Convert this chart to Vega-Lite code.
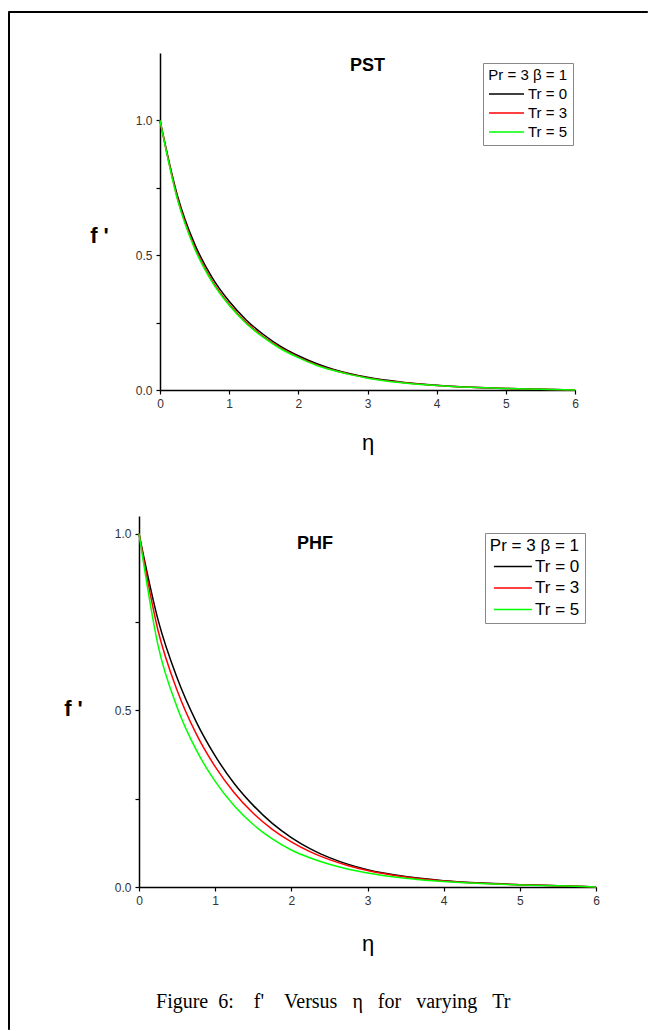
{
  "$schema": "https://vega.github.io/schema/vega-lite/v6.json",
  "padding": {"left": 7, "top": 10, "right": 0, "bottom": 0},
  "background": "white",
  "config": {"view": {"stroke": null}, "font": "Liberation Sans"},
  "datasets": {
    "pst": [
      {"eta": 0, "f": 1.0, "series": "Tr = 0"},
      {"eta": 0.25, "f": 0.723, "series": "Tr = 0"},
      {"eta": 0.5, "f": 0.542, "series": "Tr = 0"},
      {"eta": 0.75, "f": 0.419, "series": "Tr = 0"},
      {"eta": 1, "f": 0.329, "series": "Tr = 0"},
      {"eta": 1.25, "f": 0.259, "series": "Tr = 0"},
      {"eta": 1.5, "f": 0.205, "series": "Tr = 0"},
      {"eta": 1.75, "f": 0.161, "series": "Tr = 0"},
      {"eta": 2, "f": 0.127, "series": "Tr = 0"},
      {"eta": 2.25, "f": 0.099, "series": "Tr = 0"},
      {"eta": 2.5, "f": 0.077, "series": "Tr = 0"},
      {"eta": 2.75, "f": 0.06, "series": "Tr = 0"},
      {"eta": 3, "f": 0.047, "series": "Tr = 0"},
      {"eta": 3.5, "f": 0.029, "series": "Tr = 0"},
      {"eta": 4, "f": 0.0175, "series": "Tr = 0"},
      {"eta": 4.5, "f": 0.0105, "series": "Tr = 0"},
      {"eta": 5, "f": 0.006, "series": "Tr = 0"},
      {"eta": 5.5, "f": 0.003, "series": "Tr = 0"},
      {"eta": 6, "f": 0.0, "series": "Tr = 0"},
      {"eta": 0, "f": 1.0, "series": "Tr = 3"},
      {"eta": 0.25, "f": 0.713, "series": "Tr = 3"},
      {"eta": 0.5, "f": 0.53, "series": "Tr = 3"},
      {"eta": 0.75, "f": 0.407, "series": "Tr = 3"},
      {"eta": 1, "f": 0.318, "series": "Tr = 3"},
      {"eta": 1.25, "f": 0.25, "series": "Tr = 3"},
      {"eta": 1.5, "f": 0.197, "series": "Tr = 3"},
      {"eta": 1.75, "f": 0.155, "series": "Tr = 3"},
      {"eta": 2, "f": 0.122, "series": "Tr = 3"},
      {"eta": 2.25, "f": 0.095, "series": "Tr = 3"},
      {"eta": 2.5, "f": 0.074, "series": "Tr = 3"},
      {"eta": 2.75, "f": 0.058, "series": "Tr = 3"},
      {"eta": 3, "f": 0.045, "series": "Tr = 3"},
      {"eta": 3.5, "f": 0.028, "series": "Tr = 3"},
      {"eta": 4, "f": 0.017, "series": "Tr = 3"},
      {"eta": 4.5, "f": 0.01, "series": "Tr = 3"},
      {"eta": 5, "f": 0.006, "series": "Tr = 3"},
      {"eta": 5.5, "f": 0.003, "series": "Tr = 3"},
      {"eta": 6, "f": 0.0, "series": "Tr = 3"},
      {"eta": 0, "f": 1.0, "series": "Tr = 5"},
      {"eta": 0.25, "f": 0.709, "series": "Tr = 5"},
      {"eta": 0.5, "f": 0.525, "series": "Tr = 5"},
      {"eta": 0.75, "f": 0.402, "series": "Tr = 5"},
      {"eta": 1, "f": 0.314, "series": "Tr = 5"},
      {"eta": 1.25, "f": 0.246, "series": "Tr = 5"},
      {"eta": 1.5, "f": 0.194, "series": "Tr = 5"},
      {"eta": 1.75, "f": 0.152, "series": "Tr = 5"},
      {"eta": 2, "f": 0.12, "series": "Tr = 5"},
      {"eta": 2.25, "f": 0.093, "series": "Tr = 5"},
      {"eta": 2.5, "f": 0.073, "series": "Tr = 5"},
      {"eta": 2.75, "f": 0.057, "series": "Tr = 5"},
      {"eta": 3, "f": 0.044, "series": "Tr = 5"},
      {"eta": 3.5, "f": 0.027, "series": "Tr = 5"},
      {"eta": 4, "f": 0.0165, "series": "Tr = 5"},
      {"eta": 4.5, "f": 0.0098, "series": "Tr = 5"},
      {"eta": 5, "f": 0.0058, "series": "Tr = 5"},
      {"eta": 5.5, "f": 0.003, "series": "Tr = 5"},
      {"eta": 6, "f": 0.0, "series": "Tr = 5"}
    ],
    "phf": [
      {"eta": 0, "f": 1.0, "series": "Tr = 0"},
      {"eta": 0.25, "f": 0.756, "series": "Tr = 0"},
      {"eta": 0.5, "f": 0.592, "series": "Tr = 0"},
      {"eta": 0.75, "f": 0.468, "series": "Tr = 0"},
      {"eta": 1, "f": 0.371, "series": "Tr = 0"},
      {"eta": 1.25, "f": 0.293, "series": "Tr = 0"},
      {"eta": 1.5, "f": 0.231, "series": "Tr = 0"},
      {"eta": 1.75, "f": 0.18, "series": "Tr = 0"},
      {"eta": 2, "f": 0.14, "series": "Tr = 0"},
      {"eta": 2.25, "f": 0.108, "series": "Tr = 0"},
      {"eta": 2.5, "f": 0.083, "series": "Tr = 0"},
      {"eta": 2.75, "f": 0.064, "series": "Tr = 0"},
      {"eta": 3, "f": 0.049, "series": "Tr = 0"},
      {"eta": 3.5, "f": 0.0297, "series": "Tr = 0"},
      {"eta": 4, "f": 0.018, "series": "Tr = 0"},
      {"eta": 4.5, "f": 0.011, "series": "Tr = 0"},
      {"eta": 5, "f": 0.0066, "series": "Tr = 0"},
      {"eta": 5.5, "f": 0.0035, "series": "Tr = 0"},
      {"eta": 6, "f": 0.0, "series": "Tr = 0"},
      {"eta": 0, "f": 1.0, "series": "Tr = 3"},
      {"eta": 0.25, "f": 0.726, "series": "Tr = 3"},
      {"eta": 0.5, "f": 0.557, "series": "Tr = 3"},
      {"eta": 0.75, "f": 0.434, "series": "Tr = 3"},
      {"eta": 1, "f": 0.3405, "series": "Tr = 3"},
      {"eta": 1.25, "f": 0.2665, "series": "Tr = 3"},
      {"eta": 1.5, "f": 0.2086, "series": "Tr = 3"},
      {"eta": 1.75, "f": 0.1633, "series": "Tr = 3"},
      {"eta": 2, "f": 0.1278, "series": "Tr = 3"},
      {"eta": 2.25, "f": 0.0995, "series": "Tr = 3"},
      {"eta": 2.5, "f": 0.0775, "series": "Tr = 3"},
      {"eta": 2.75, "f": 0.0604, "series": "Tr = 3"},
      {"eta": 3, "f": 0.047, "series": "Tr = 3"},
      {"eta": 3.5, "f": 0.0285, "series": "Tr = 3"},
      {"eta": 4, "f": 0.0173, "series": "Tr = 3"},
      {"eta": 4.5, "f": 0.0105, "series": "Tr = 3"},
      {"eta": 5, "f": 0.0064, "series": "Tr = 3"},
      {"eta": 5.5, "f": 0.0034, "series": "Tr = 3"},
      {"eta": 6, "f": 0.0, "series": "Tr = 3"},
      {"eta": 0, "f": 1.0, "series": "Tr = 5"},
      {"eta": 0.25, "f": 0.684, "series": "Tr = 5"},
      {"eta": 0.5, "f": 0.509, "series": "Tr = 5"},
      {"eta": 0.75, "f": 0.3886, "series": "Tr = 5"},
      {"eta": 1, "f": 0.2989, "series": "Tr = 5"},
      {"eta": 1.25, "f": 0.2299, "series": "Tr = 5"},
      {"eta": 1.5, "f": 0.1768, "series": "Tr = 5"},
      {"eta": 1.75, "f": 0.136, "series": "Tr = 5"},
      {"eta": 2, "f": 0.1046, "series": "Tr = 5"},
      {"eta": 2.25, "f": 0.0821, "series": "Tr = 5"},
      {"eta": 2.5, "f": 0.0644, "series": "Tr = 5"},
      {"eta": 2.75, "f": 0.0505, "series": "Tr = 5"},
      {"eta": 3, "f": 0.0397, "series": "Tr = 5"},
      {"eta": 3.5, "f": 0.0247, "series": "Tr = 5"},
      {"eta": 4, "f": 0.0154, "series": "Tr = 5"},
      {"eta": 4.5, "f": 0.0096, "series": "Tr = 5"},
      {"eta": 5, "f": 0.006, "series": "Tr = 5"},
      {"eta": 5.5, "f": 0.0032, "series": "Tr = 5"},
      {"eta": 6, "f": 0.0, "series": "Tr = 5"}
    ]
  },
  "bounds": "flush",
  "spacing": 0,
  "vconcat": [
    {
      "width": 639, "height": 1,
      "view": {"stroke": "black", "strokeWidth": 1, "fill": "black"},
      "data": {"values": []},
      "mark": {"type": "point", "opacity": 0}
    },
    {
      "bounds": "flush",
      "spacing": 130,
      "hconcat": [
        {
          "width": 1, "height": 1017,
          "view": {"stroke": "black", "strokeWidth": 1, "fill": "black"},
          "data": {"values": []},
          "mark": {"type": "point", "opacity": 0}
        },
        {
          "bounds": "flush",
          "spacing": 0,
          "vconcat": [
            {
              "width": 1, "height": 41,
              "data": {"values": []},
              "mark": {"type": "point", "opacity": 0}
            },
            {
              "bounds": "flush",
              "spacing": 126,
              "center": true,
              "resolve": {"scale": {"color": "independent"}, "legend": {"color": "independent"}},
              "vconcat": [
                {
                  "width": 415, "height": 337,
                  "data": {"name": "pst"},
                  "layer": [
                    {
                      "mark": {"type": "line", "interpolate": "monotone", "strokeWidth": 1.5},
                      "encoding": {
                        "x": {
                          "field": "eta", "type": "quantitative",
                          "scale": {"domain": [0, 6], "nice": false, "zero": false},
                          "axis": {
                            "values": [0, 0.5, 1, 1.5, 2, 2.5, 3, 3.5, 4, 4.5, 5, 5.5, 6],
                            "labelExpr": "datum.value % 1 == 0 ? format(datum.value, 'd') : ''",
                            "title": "η", "titleFont": "Liberation Sans", "titleFontSize": 22, "titleFontWeight": "normal",
                            "titleColor": "#000", "titleY": 52, "titleBaseline": "middle",
                            "grid": false, "domainColor": "#000", "domainWidth": 1.5,
                            "tickColor": "#000", "tickSize": 4, "tickWidth": 1.2,
                            "labelFont": "Liberation Sans", "labelFontSize": 12, "labelColor": "#333",
                            "labelPadding": 4, "labelFlush": false, "labelOverlap": false
                          }
                        },
                        "y": {
                          "field": "f", "type": "quantitative",
                          "scale": {"domain": [0, 1.25], "nice": false},
                          "axis": {
                            "values": [0, 0.25, 0.5, 0.75, 1],
                            "labelExpr": "datum.value == 0.25 || datum.value == 0.75 ? '' : format(datum.value, '.1f')",
                            "title": "f '", "titleAngle": 0, "titleX": -61, "titleY": 182,
                            "titleAlign": "center", "titleBaseline": "middle",
                            "titleFont": "Liberation Sans", "titleFontSize": 22, "titleFontWeight": "bold", "titleColor": "#000",
                            "grid": false, "domainColor": "#000", "domainWidth": 1.5,
                            "tickColor": "#000", "tickSize": 4, "tickWidth": 1.2,
                            "labelFont": "Liberation Sans", "labelFontSize": 12, "labelColor": "#333",
                            "labelPadding": 4, "labelFlush": false, "labelOverlap": false
                          }
                        },
                        "color": {
                          "field": "series", "type": "nominal",
                          "scale": {"domain": ["Tr = 0", "Tr = 3", "Tr = 5"], "range": ["#000000", "#ff0000", "#00ff00"]},
                          "legend": {
                            "orient": "none", "legendX": 323, "legendY": 10,
                            "title": "Pr = 3 β = 1", "titleFont": "Liberation Sans", "titleFontSize": 15,
                            "titleFontWeight": "normal", "titleColor": "#000", "titleAnchor": "end", "titlePadding": 3,
                            "labelFont": "Liberation Sans", "labelFontSize": 15, "labelColor": "#000", "labelOffset": 24,
                            "symbolType": "M-1,0H4", "symbolSize": 196, "symbolStrokeWidth": 1.5,
                            "rowPadding": 3, "padding": 5, "strokeColor": "#888", "fillColor": "white"
                          }
                        }
                      }
                    },
                    {
                      "data": {"values": [{"label": "PST"}]},
                      "mark": {"type": "text", "font": "Liberation Sans", "fontSize": 18, "fontWeight": "bold", "color": "#000"},
                      "encoding": {
                        "x": {"datum": 3},
                        "y": {"datum": 1.2},
                        "text": {"field": "label"}
                      }
                    }
                  ]
                },
                {
                  "width": 457, "height": 371,
                  "data": {"name": "phf"},
                  "layer": [
                    {
                      "mark": {"type": "line", "interpolate": "monotone", "strokeWidth": 1.5},
                      "encoding": {
                        "x": {
                          "field": "eta", "type": "quantitative",
                          "scale": {"domain": [0, 6], "nice": false, "zero": false},
                          "axis": {
                            "values": [0, 0.5, 1, 1.5, 2, 2.5, 3, 3.5, 4, 4.5, 5, 5.5, 6],
                            "labelExpr": "datum.value % 1 == 0 ? format(datum.value, 'd') : ''",
                            "title": "η", "titleFont": "Liberation Sans", "titleFontSize": 22, "titleFontWeight": "normal",
                            "titleColor": "#000", "titleY": 56, "titleBaseline": "middle",
                            "grid": false, "domainColor": "#000", "domainWidth": 1.5,
                            "tickColor": "#000", "tickSize": 4, "tickWidth": 1.2,
                            "labelFont": "Liberation Sans", "labelFontSize": 12, "labelColor": "#333",
                            "labelPadding": 4, "labelFlush": false, "labelOverlap": false
                          }
                        },
                        "y": {
                          "field": "f", "type": "quantitative",
                          "scale": {"domain": [0, 1.05], "nice": false},
                          "axis": {
                            "values": [0, 0.25, 0.5, 0.75, 1],
                            "labelExpr": "datum.value == 0.25 || datum.value == 0.75 ? '' : format(datum.value, '.1f')",
                            "title": "f '", "titleAngle": 0, "titleX": -66, "titleY": 192,
                            "titleAlign": "center", "titleBaseline": "middle",
                            "titleFont": "Liberation Sans", "titleFontSize": 22, "titleFontWeight": "bold", "titleColor": "#000",
                            "grid": false, "domainColor": "#000", "domainWidth": 1.5,
                            "tickColor": "#000", "tickSize": 4, "tickWidth": 1.2,
                            "labelFont": "Liberation Sans", "labelFontSize": 12, "labelColor": "#333",
                            "labelPadding": 4, "labelFlush": false, "labelOverlap": false
                          }
                        },
                        "color": {
                          "field": "series", "type": "nominal",
                          "scale": {"domain": ["Tr = 0", "Tr = 3", "Tr = 5"], "range": ["#000000", "#ff0000", "#00ff00"]},
                          "legend": {
                            "orient": "none", "legendX": 346, "legendY": 17,
                            "title": "Pr = 3 β = 1", "titleFont": "Liberation Sans", "titleFontSize": 17,
                            "titleFontWeight": "normal", "titleColor": "#000", "titleAnchor": "end", "titlePadding": 3,
                            "labelFont": "Liberation Sans", "labelFontSize": 17, "labelColor": "#000", "labelOffset": 25,
                            "symbolType": "M-1,0H4", "symbolSize": 231, "symbolStrokeWidth": 1.5,
                            "rowPadding": 3.5, "padding": 5, "strokeColor": "#888", "fillColor": "white"
                          }
                        }
                      }
                    },
                    {
                      "data": {"values": [{"label": "PHF"}]},
                      "mark": {"type": "text", "font": "Liberation Sans", "fontSize": 18, "fontWeight": "bold", "color": "#000"},
                      "encoding": {
                        "x": {"datum": 2.31},
                        "y": {"datum": 0.972},
                        "text": {"field": "label"}
                      }
                    },
                    {
                      "data": {"values": [{"caption": "Figure\u00a0\u00a06:\u00a0\u00a0\u00a0\u00a0f'\u00a0\u00a0\u00a0\u00a0Versus\u00a0\u00a0\u00a0η\u00a0\u00a0\u00a0for\u00a0\u00a0\u00a0varying\u00a0\u00a0\u00a0Tr"}]},
                      "mark": {"type": "text", "font": "Liberation Serif", "fontSize": 20, "color": "#000"},
                      "encoding": {
                        "x": {"datum": 2.55},
                        "y": {"datum": -0.325},
                        "text": {"field": "caption"}
                      }
                    }
                  ]
                }
              ]
            }
          ]
        }
      ]
    }
  ]
}
